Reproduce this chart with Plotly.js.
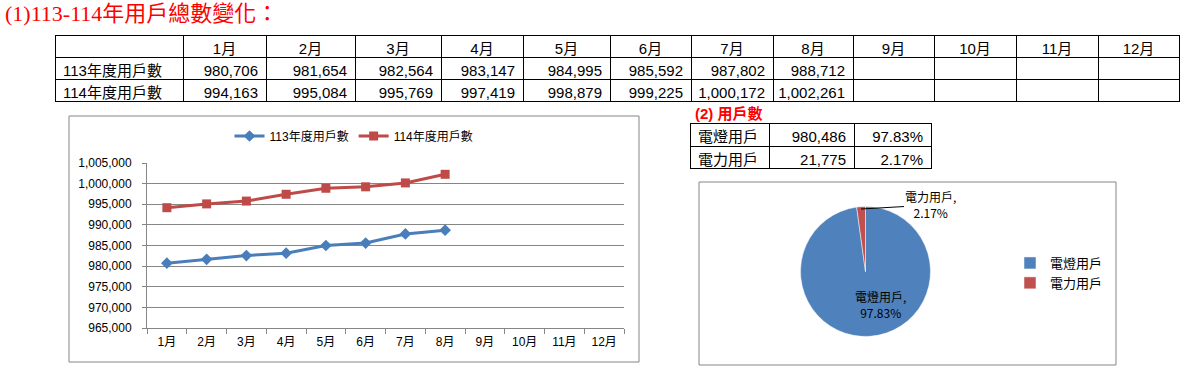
<!DOCTYPE html>
<html><head><meta charset="utf-8">
<script src="https://cdn.plot.ly/plotly-3.0.1.min.js"></script>
<style>html,body{margin:0;padding:0;background:#fff;}#chart{width:1188px;height:383px;}</style>
</head><body><div id="chart"></div>
<script>
const months = ['1月','2月','3月','4月','5月','6月','7月','8月','9月','10月','11月','12月'];
const rowNames = ['113年度用戶數','114年度用戶數'];
const series113 = [980706, 981654, 982564, 983147, 984995, 985592, 987802, 988712];
const series114 = [994163, 995084, 995769, 997419, 998879, 999225, 1000172, 1002261];
const pieLabels = ['電燈用戶','電力用戶'];
const pieValues = [980486, 21775];
const mainTitle = '(1)113-114年用戶總數變化：';
const subTitle = '(2) 用戶數';

const W = 1188, H = 383;
const px = v => v / W, py = v => 1 - v / H;
const fmt = n => n.toLocaleString('en-US');
const total = pieValues.reduce((a,b)=>a+b,0);
const pct = pieValues.map(v => (v/total*100).toFixed(2) + '%');

const CJK = 'Noto Sans CJK TC';
const tblFont = {family: 'Liberation Sans, ' + CJK, size: 15, color: '#000'};
const chartFont = {family: 'Liberation Sans, ' + CJK, size: 12, color: '#000'};

// Table 1
const t1Header = [''].concat(months);
const t1Cells = [rowNames].concat(months.map((m,i)=>[
  i < series113.length ? fmt(series113[i]) : '',
  i < series114.length ? fmt(series114[i]) : ''
]));
const t1Widths = [128,83,89,86,82,87,81,82,80,81,82,82,81];

const table1 = {
  type: 'table', domain: {x: [px(55), px(1179)], y: [py(110), py(35)]},
  columnwidth: t1Widths,
  header: {values: t1Header, align: 'center', height: 22, font: tblFont,
           line: {color: '#000', width: 1}, fill: {color: '#fff'}},
  cells: {values: t1Cells, align: ['left'].concat(months.map(()=> 'right')), height: 22,
          font: tblFont, line: {color: '#000', width: 1}, fill: {color: '#fff'}}
};

// Table 2 (first row drawn as header with identical style)
const table2 = {
  type: 'table', domain: {x: [px(690), px(931)], y: [py(180), py(123)]},
  columnwidth: [79, 85, 77],
  header: {values: [pieLabels[0], fmt(pieValues[0]), pct[0]], align: ['left','right','right'], height: 23,
           font: tblFont, line: {color: '#000', width: 1}, fill: {color: '#fff'}},
  cells: {values: [[pieLabels[1]], [fmt(pieValues[1])], [pct[1]]], align: ['left','right','right'], height: 22,
          font: tblFont, line: {color: '#000', width: 1}, fill: {color: '#fff'}}
};

const line113 = {
  type: 'scatter', mode: 'lines+markers', name: rowNames[0],
  x: months.slice(0, series113.length), y: series113,
  line: {color: '#4A7EBB', width: 3}, marker: {symbol: 'diamond', size: 9, color: '#4A7EBB'},
  xaxis: 'x', yaxis: 'y', legend: 'legend'
};
const line114 = {
  type: 'scatter', mode: 'lines+markers', name: rowNames[1],
  x: months.slice(0, series114.length), y: series114,
  line: {color: '#BE4B48', width: 3}, marker: {symbol: 'square', size: 9, color: '#BE4B48'},
  xaxis: 'x', yaxis: 'y', legend: 'legend'
};

const pie = {
  type: 'pie', labels: pieLabels, values: pieValues, sort: false, direction: 'clockwise', rotation: 0,
  marker: {colors: ['#4F81BD', '#C0504D'], line: {color: '#fff', width: 0.5}},
  textinfo: 'none', hoverinfo: 'none',
  domain: {x: [px(800.5), px(930.5)], y: [py(336.5), py(206.5)]},
  legend: 'legend2', showlegend: true
};

const layout = {
  width: W, height: H, margin: {l:0, r:0, t:0, b:0},
  paper_bgcolor: '#fff', plot_bgcolor: 'rgba(0,0,0,0)',
  font: chartFont,
  xaxis: {domain: [px(147), px(624)], type: 'category', categoryarray: months, categoryorder: 'array',
          range: [-0.5, 11.5], showgrid: false, showline: true, linecolor: '#868686', linewidth: 1,
          ticks: 'outside', tickson: 'boundaries', ticklen: 5, tickcolor: '#868686',
          ticklabelstandoff: 3, tickfont: chartFont, anchor: 'y', fixedrange: true},
  yaxis: {domain: [py(328), py(163)], range: [965000, 1005000], dtick: 5000, tick0: 965000,
          tickformat: ',d', showgrid: true, gridcolor: '#868686', gridwidth: 1, zeroline: false,
          showline: true, linecolor: '#868686', linewidth: 1, ticks: 'outside', ticklen: 4, tickcolor: '#868686',
          ticklabelstandoff: 8, tickfont: chartFont, anchor: 'x', fixedrange: true},
  legend: {orientation: 'h', x: px(354), xanchor: 'center', y: py(136), yanchor: 'middle',
           bgcolor: 'rgba(0,0,0,0)', font: chartFont},
  legend2: {orientation: 'v', x: px(1010), xanchor: 'left', y: py(273), yanchor: 'middle',
            bgcolor: 'rgba(0,0,0,0)', font: {family: CJK, size: 13, color: '#000'}},
  shapes: [
    {type: 'rect', xref: 'paper', yref: 'paper', x0: px(69), x1: px(639), y0: py(362), y1: py(116),
     line: {color: '#868686', width: 1}},
    {type: 'rect', xref: 'paper', yref: 'paper', x0: px(699), x1: px(1116), y0: py(365), y1: py(182),
     line: {color: '#868686', width: 1}}
  ],
  annotations: [
    {xref: 'paper', yref: 'paper', x: px(3), y: py(13), xanchor: 'left', yanchor: 'middle', showarrow: false,
     text: mainTitle, font: {family: 'Liberation Serif, ' + CJK, size: 22, color: '#FF0000'}},
    {xref: 'paper', yref: 'paper', x: px(693), y: py(114), xanchor: 'left', yanchor: 'middle', showarrow: false,
     text: '<b>' + subTitle + '</b>', font: {family: 'Liberation Sans, ' + CJK, size: 15, color: '#FF0000'}},
    {xref: 'paper', yref: 'paper', x: px(880), y: py(304), xanchor: 'center', yanchor: 'middle', showarrow: false,
     text: pieLabels[0] + ',<br>' + pct[0], align: 'center', font: {family: CJK, size: 12, color: '#000'}},
    {xref: 'paper', yref: 'paper', x: px(861), y: py(209), showarrow: true, arrowhead: 0, arrowwidth: 1,
     arrowcolor: '#000', ax: 70, ay: -4, xanchor: 'center', yanchor: 'middle',
     text: pieLabels[1] + ',<br>' + pct[1], align: 'center', font: {family: CJK, size: 12, color: '#000'}}
  ]
};

Plotly.newPlot('chart', [table1, table2, line113, line114, pie], layout, {staticPlot: true, displayModeBar: false});
</script></body></html>
